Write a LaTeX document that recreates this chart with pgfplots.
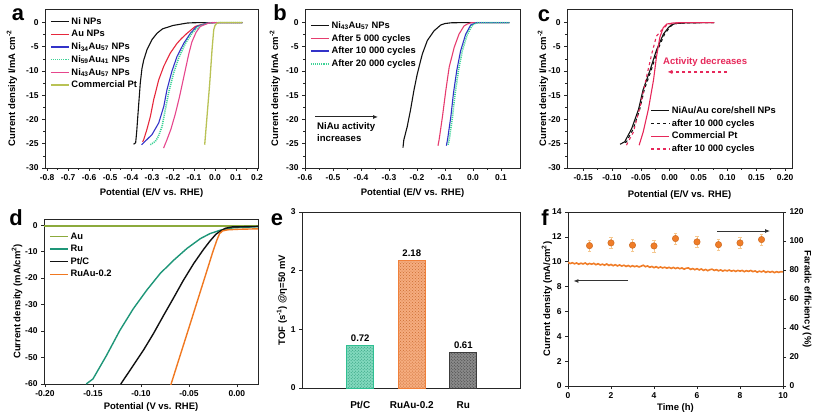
\documentclass[border=0pt]{standalone}
\usepackage{fontspec}
\setmainfont{Liberation Sans}
\usepackage{pgfplots}
\pgfplotsset{compat=1.18}
\usetikzlibrary{patterns,arrows.meta}

\definecolor{cNi}{HTML}{111111}
\definecolor{cAu}{HTML}{E6283C}
\definecolor{cBlue}{HTML}{3232C8}
\definecolor{cGreen}{HTML}{3CD296}
\definecolor{cPink}{HTML}{E6468C}
\definecolor{cPt}{HTML}{B9C255}
\definecolor{cRedB}{HTML}{E63C6E}
\definecolor{cRedC}{HTML}{E6285A}
\definecolor{dAu}{HTML}{8CAA3C}
\definecolor{dRu}{HTML}{1E9678}
\definecolor{dRuAu}{HTML}{F07820}
\definecolor{eGreen}{HTML}{2FBF92}
\definecolor{eOrange}{HTML}{F0803A}
\definecolor{eGray}{HTML}{3C3C3C}
\definecolor{fOrange}{HTML}{F07D28}
\definecolor{fErr}{HTML}{F5C890}

\pgfplotsset{
  panel/.style={
    scale only axis,
    axis line style={draw=black!85, line width=0.8bp},
    every tick/.style={black!85, line width=0.7bp},
    tick align=outside,
    major tick length=3bp,
    minor tick length=1.8bp,
    xtick pos=left, ytick pos=left,
    tick label style={font=\fontsize{8.5}{10}\selectfont\bfseries},
    label style={font=\fontsize{9.5}{11}\selectfont\bfseries},
    /pgf/number format/assume math mode=true,
    legend style={draw=none, fill=none, font=\fontsize{9.4}{11}\selectfont\bfseries, inner sep=0pt, row sep=0.5bp},
    legend cell align=left,
    legend image code/.code={\draw[line width=1.4bp, ##1] (0bp,0bp) -- (18bp,0bp);},
    every axis plot/.append style={line width=1.1bp},
  },
}

\begin{document}
\begin{tikzpicture}[x=1bp,y=1bp]
\useasboundingbox (0,0) rectangle (815,419);

% ---------------- panel a ----------------
\begin{axis}[panel, at={(45bp,251bp)}, anchor=south west, width=213bp, height=159bp,
  xmin=-0.81, xmax=0.205, ymin=-30, ymax=2.8,
  xtick={-0.8,-0.7,-0.6,-0.5,-0.4,-0.3,-0.2,-0.1,0,0.1,0.2},
  ytick={-30,-25,-20,-15,-10,-5,0},
  minor x tick num=1, minor y tick num=1,
  x tick label style={/pgf/number format/.cd, fixed, fixed zerofill, precision=1},
  xlabel={Potential (E/V vs. RHE)},
  ylabel={Current density I/mA cm\textsuperscript{-2}},
  x label style={at={(axis description cs:0.5,-0.157)}, anchor=center},
  y label style={at={(axis description cs:-0.155,0.5)}, anchor=center},
  legend style={at={(0.023,0.96)}, anchor=north west}]
\addplot[cNi] coordinates {(0.13,0) (0,0) (-0.1,-0.03) (-0.133,-0.1) (-0.2,-0.6) (-0.25,-1.3) (-0.276,-2.2) (-0.3,-3.5) (-0.324,-5.6) (-0.34,-7.8) (-0.348,-9.5) (-0.356,-12.5) (-0.362,-16) (-0.368,-19.5) (-0.373,-22.5) (-0.378,-24.8) (-0.388,-25.1)};
\addlegendentry{Ni NPs}
\addplot[cAu] coordinates {(0.13,0) (0,0) (-0.03,-0.1) (-0.06,-0.35) (-0.094,-0.8) (-0.133,-2.2) (-0.16,-3.3) (-0.181,-4.3) (-0.213,-6.3) (-0.244,-9) (-0.268,-11.8) (-0.292,-15.9) (-0.308,-19.4) (-0.324,-22) (-0.34,-24.2) (-0.345,-24.6)};
\addlegendentry{Au NPs}
\addplot[cBlue] coordinates {(0.13,0) (0,0) (-0.04,-0.15) (-0.086,-0.8) (-0.117,-2.2) (-0.149,-4.3) (-0.181,-7) (-0.205,-10) (-0.229,-13.9) (-0.244,-17.3) (-0.268,-20.7) (-0.3,-23.1) (-0.34,-24.8) (-0.35,-25.2)};
\addlegendentry{Ni\textsubscript{34}Au\textsubscript{57} NPs}
\addplot[cGreen, densely dotted, line width=1.6bp] coordinates {(0.13,0) (0,0) (-0.04,-0.15) (-0.078,-0.8) (-0.11,-2.2) (-0.141,-4.3) (-0.173,-7.3) (-0.197,-10.4) (-0.221,-14.5) (-0.237,-18) (-0.252,-21.4) (-0.27,-23.5) (-0.284,-24.5) (-0.308,-25.2)};
\addlegendentry{Ni\textsubscript{59}Au\textsubscript{41} NPs}
\addplot[cPink] coordinates {(0.13,0) (0,0) (-0.03,-0.1) (-0.07,-0.8) (-0.09,-2) (-0.11,-4) (-0.125,-6.5) (-0.14,-9.5) (-0.155,-12.5) (-0.17,-15.5) (-0.19,-19) (-0.21,-22) (-0.23,-24.3) (-0.245,-25.9)};
\addlegendentry{Ni\textsubscript{43}Au\textsubscript{57} NPs}
\addplot[cPt, line width=1.3bp] coordinates {(0.13,0) (0.02,0) (0.01,-0.1) (0,-0.6) (-0.006,-1.5) (-0.014,-5.6) (-0.025,-12.5) (-0.038,-19.4) (-0.049,-25.2)};
\addlegendentry{Commercial Pt}
\end{axis}

% ---------------- panel b ----------------
\begin{axis}[panel, at={(305bp,251bp)}, anchor=south west, width=215bp, height=159bp,
  xmin=-0.6, xmax=0.168, ymin=-30, ymax=2.8,
  xtick={-0.6,-0.5,-0.4,-0.3,-0.2,-0.1,0,0.1},
  ytick={-30,-25,-20,-15,-10,-5,0},
  minor x tick num=1, minor y tick num=1,
  x tick label style={/pgf/number format/.cd, fixed, fixed zerofill, precision=1},
  xlabel={Potential (E/V vs. RHE)},
  ylabel={Current density I/mA cm\textsuperscript{-2}},
  x label style={at={(axis description cs:0.5,-0.157)}, anchor=center},
  y label style={at={(axis description cs:-0.14,0.5)}, anchor=center},
  legend style={at={(0.023,0.935)}, anchor=north west}]
\addplot[cNi] coordinates {(0.13,0) (0,0) (-0.05,-0.02) (-0.079,-0.05) (-0.1,-0.2) (-0.115,-0.5) (-0.139,-1.7) (-0.163,-3.7) (-0.181,-6.5) (-0.199,-10.6) (-0.211,-14) (-0.223,-18) (-0.235,-21.5) (-0.247,-24.2) (-0.25,-25.8)};
\addlegendentry{Ni\textsubscript{43}Au\textsubscript{57} NPs}
\addplot[cRedB] coordinates {(0.13,0) (0,0) (-0.008,-0.05) (-0.02,-0.3) (-0.032,-0.7) (-0.05,-2.4) (-0.067,-5.1) (-0.085,-9.2) (-0.097,-14) (-0.109,-19.4) (-0.121,-24.2) (-0.125,-25.4)};
\addlegendentry{After 5 000 cycles}
\addplot[cBlue] coordinates {(0.13,0) (0.02,0) (0.01,-0.05) (-0.008,-0.5) (-0.026,-2.4) (-0.044,-5.8) (-0.058,-9.9) (-0.07,-14.7) (-0.079,-19.4) (-0.091,-24.2) (-0.095,-25.4)};
\addlegendentry{After 10 000 cycles}
\addplot[cGreen, densely dotted, line width=1.6bp] coordinates {(0.13,0) (0.025,0) (0.012,-0.05) (-0.002,-0.5) (-0.02,-2.4) (-0.038,-5.8) (-0.052,-9.9) (-0.064,-14.7) (-0.073,-19.4) (-0.085,-24.2) (-0.089,-25.2)};
\addlegendentry{After 20 000 cycles}
\draw[-{Latex[length=5bp,width=4bp]}, line width=1bp, black!85] (axis cs:-0.564,-19.47) -- (axis cs:-0.339,-19.47);
\node[anchor=north west, align=left, inner sep=0pt, font=\fontsize{9.6}{12}\selectfont\bfseries] at (axis cs:-0.557,-20.6) {NiAu activity\\increases};
\end{axis}

% ---------------- panel c ----------------
\begin{axis}[panel, at={(567bp,251bp)}, anchor=south west, width=225bp, height=159bp,
  xmin=-0.178, xmax=0.212, ymin=-30, ymax=2.8,
  xtick={-0.15,-0.1,-0.05,0,0.05,0.1,0.15,0.2},
  ytick={-30,-25,-20,-15,-10,-5,0},
  minor x tick num=1, minor y tick num=1,
  x tick label style={/pgf/number format/.cd, fixed, fixed zerofill, precision=2},
  xlabel={Potential (E/V vs. RHE)},
  ylabel={Current density I/mA cm\textsuperscript{-2}},
  x label style={at={(axis description cs:0.5,-0.17)}, anchor=center},
  y label style={at={(axis description cs:-0.107,0.5)}, anchor=center},
  legend style={at={(0.37,0.40)}, anchor=north west}]
\addplot[cNi] coordinates {(0.077,0) (0.03,-0.05) (0.01,-0.2) (0.003,-0.5) (-0.002,-1) (-0.011,-2.4) (-0.023,-5.7) (-0.034,-9.8) (-0.046,-13.8) (-0.054,-17.9) (-0.066,-21.9) (-0.078,-24.6) (-0.086,-25.1)};
\addlegendentry{NiAu/Au core/shell NPs}
\addplot[cNi, dashed] coordinates {(0.077,0) (0.03,-0.05) (0.01,-0.2) (0.004,-0.5) (0,-1) (-0.009,-2.4) (-0.021,-5.7) (-0.032,-9.8) (-0.044,-13.8) (-0.052,-17.9) (-0.063,-21.9) (-0.075,-24.6) (-0.082,-25)};
\addlegendentry{after 10 000 cycles}
\addplot[cRedC] coordinates {(0.077,0) (0.02,-0.02) (0.005,-0.1) (-0.005,-0.3) (-0.011,-1) (-0.017,-3) (-0.023,-7.1) (-0.028,-11.8) (-0.037,-17.9) (-0.046,-22.6) (-0.053,-25.3)};
\addlegendentry{Commercial Pt}
\addplot[cRedC, dashed] coordinates {(0.077,0) (0.02,-0.02) (0.005,-0.15) (-0.005,-0.5) (-0.012,-1.3) (-0.023,-2.8) (-0.031,-6.4) (-0.04,-11.1) (-0.051,-17.2) (-0.063,-22.6) (-0.075,-25.3)};
\addlegendentry{after 10 000 cycles}
\node[text=cRedC, font=\fontsize{9.6}{11}\selectfont\bfseries] at (axis cs:0.0614,-8.1) {Activity decreases};
\draw[cRedC, dashed, line width=1.3bp, -{Latex[length=5bp,width=4.5bp]}] (axis cs:0.0996,-10.18) -- (axis cs:-0.004,-10.18);
\end{axis}

% ---------------- panel d ----------------
\begin{axis}[panel, at={(44bp,35bp)}, anchor=south west, width=214bp, height=165bp,
  xmin=-0.201, xmax=0.022, ymin=-60, ymax=2.3,
  xtick={-0.2,-0.15,-0.1,-0.05,0},
  ytick={-60,-50,-40,-30,-20,-10,0},
  x tick label style={/pgf/number format/.cd, fixed, fixed zerofill, precision=2},
  xlabel={Potential (V vs. RHE)},
  ylabel={Current density (mA/cm\textsuperscript{2})},
  x label style={at={(axis description cs:0.5,-0.139)}, anchor=center},
  y label style={at={(axis description cs:-0.126,0.5)}, anchor=center},
  legend style={at={(0.023,0.93)}, anchor=north west},
  every axis plot/.append style={line width=1.4bp}]
\addplot[dAu] coordinates {(-0.201,-0.3) (-0.1,-0.3) (0,-0.3) (0.022,-0.3)};
\addlegendentry{Au}
\addplot[dRu] coordinates {(-0.157,-60) (-0.15,-58.1) (-0.136,-49.3) (-0.122,-39.8) (-0.108,-31.6) (-0.094,-24.6) (-0.08,-18.3) (-0.066,-13.3) (-0.052,-8.8) (-0.038,-5.1) (-0.028,-3.2) (-0.017,-1.9) (-0.01,-1.4) (-0.0035,-1) (0.022,-0.6)};
\addlegendentry{Ru}
\addplot[cNi] coordinates {(-0.121,-60) (-0.108,-53) (-0.097,-47) (-0.087,-41) (-0.077,-34.5) (-0.066,-27.5) (-0.056,-21) (-0.045,-14.5) (-0.035,-9.3) (-0.028,-6) (-0.022,-3.5) (-0.017,-2.2) (-0.012,-1.2) (-0.005,-0.7) (0.022,-0.5)};
\addlegendentry{Pt/C}
\addplot[dRuAu] coordinates {(-0.069,-60.5) (-0.06,-50.2) (-0.05,-38.8) (-0.04,-27.3) (-0.03,-15.8) (-0.025,-10) (-0.021,-5.8) (-0.018,-3.2) (-0.015,-2.2) (-0.01,-1.8) (0,-1.6) (0.022,-1.4)};
\addlegendentry{RuAu-0.2}
\end{axis}

% ---------------- panel e ----------------
\begin{axis}[panel, at={(302bp,31bp)}, anchor=south west, width=218bp, height=176bp,
  xmin=-0.13, xmax=4.1, ymin=0, ymax=3,
  xtick={1,2,3}, xticklabels={Pt/C,RuAu-0.2,Ru},
  ytick={0,1,2,3},
  x tick style={draw=none},
  x tick label style={font=\fontsize{10}{12}\selectfont\bfseries, yshift=-7bp},
  ylabel={TOF (s\textsuperscript{-1}) @η=50 mV},
  y label style={at={(axis description cs:-0.092,0.5)}, anchor=center},
  nodes near coords,
  nodes near coords style={font=\fontsize{9.6}{11}\selectfont\bfseries, text=black, /pgf/number format/.cd, fixed, precision=2, fixed zerofill}]
\addplot[ybar, bar width=27bp, bar shift=0pt, line width=0.8bp, draw=eGreen, fill=eGreen!60, postaction={pattern=crosshatch dots, pattern color=eGreen!80!black}] coordinates {(1,0.72)};
\addplot[ybar, bar width=27bp, bar shift=0pt, line width=0.8bp, draw=eOrange, fill=eOrange!65, postaction={pattern=crosshatch dots, pattern color=eOrange!85!black}] coordinates {(2,2.18)};
\addplot[ybar, bar width=27bp, bar shift=0pt, line width=0.8bp, draw=eGray, fill=eGray!60, postaction={pattern=crosshatch dots, pattern color=eGray}] coordinates {(3,0.61)};
\end{axis}

% ---------------- panel f ----------------
\begin{axis}[panel, at={(568bp,33bp)}, anchor=south west, width=215bp, height=174bp,
  xmin=0, xmax=10, ymin=0, ymax=14,
  xtick={0,2,4,6,8,10}, ytick={0,2,4,6,8,10,12,14},
  xlabel={Time (h)},
  ylabel={Current density (mA/cm\textsuperscript{2})},
  x label style={at={(axis description cs:0.5,-0.126)}, anchor=center},
  y label style={at={(axis description cs:-0.098,0.5)}, anchor=center}]
\addplot[fOrange, line width=1.6bp] coordinates {
(0,9.95) (0.1,9.85) (0.2,9.92) (0.3,9.83) (0.4,9.9) (0.5,9.8) (0.6,9.88) (0.7,9.82) (0.8,9.9) (0.9,9.78)
(1.0,9.86) (1.1,9.8) (1.2,9.87) (1.3,9.76) (1.4,9.84) (1.5,9.74) (1.6,9.8) (1.7,9.72) (1.8,9.82) (1.9,9.7)
(2.0,9.78) (2.1,9.68) (2.2,9.76) (2.3,9.66) (2.4,9.74) (2.5,9.65) (2.6,9.72) (2.7,9.62) (2.8,9.7) (2.9,9.6)
(3.0,9.68) (3.1,9.6) (3.2,9.66) (3.3,9.58) (3.4,9.64) (3.5,9.72) (3.6,9.6) (3.7,9.66) (3.8,9.55) (3.9,9.62)
(4.0,9.52) (4.1,9.6) (4.2,9.5) (4.3,9.58) (4.4,9.5) (4.5,9.56) (4.6,9.48) (4.7,9.55) (4.8,9.46) (4.9,9.54)
(5.0,9.45) (5.1,9.52) (5.2,9.44) (5.3,9.5) (5.4,9.4) (5.5,9.48) (5.6,9.5) (5.7,9.38) (5.8,9.45) (5.9,9.36)
(6.0,9.44) (6.1,9.34) (6.2,9.42) (6.3,9.3) (6.4,9.38) (6.5,9.28) (6.6,9.36) (6.7,9.4) (6.8,9.3) (6.9,9.36)
(7.0,9.27) (7.1,9.34) (7.2,9.25) (7.3,9.32) (7.4,9.26) (7.5,9.33) (7.6,9.24) (7.7,9.3) (7.8,9.22) (7.9,9.3)
(8.0,9.24) (8.1,9.3) (8.2,9.2) (8.3,9.28) (8.4,9.22) (8.5,9.3) (8.6,9.2) (8.7,9.26) (8.8,9.16) (8.9,9.24)
(9.0,9.18) (9.1,9.26) (9.2,9.14) (9.3,9.22) (9.4,9.15) (9.5,9.22) (9.6,9.12) (9.7,9.2) (9.8,9.14) (9.9,9.2) (10,9.18)};
\draw[-{Latex[length=5bp,width=4bp]}, line width=1bp, black!80] (axis cs:2.8,8.45) -- (axis cs:0.25,8.45);
\draw[-{Latex[length=5bp,width=4bp]}, line width=1bp, black!80] (axis cs:6.93,12.47) -- (axis cs:9.4,12.47);
\end{axis}
\begin{axis}[panel, at={(568bp,33bp)}, anchor=south west, width=215bp, height=174bp,
  xmin=0, xmax=10, ymin=0, ymax=120,
  axis x line=none, axis y line*=right, ytick pos=right,
  ytick={0,20,40,60,80,100,120},
  ylabel={Faradic efficiency (\%)},
  y label style={at={(axis description cs:1.112,0.5)}, anchor=center, rotate=-180}]
\addplot[only marks, mark=*, mark size=3.2bp, mark options={fill=fOrange, draw=fOrange!85!black, line width=0.5bp},
  error bars/.cd, y dir=both, y explicit,
  error bar style={color=fErr, line width=0.8bp},
  error mark options={rotate=90, mark size=1.6bp, fErr}]
  coordinates {(1,96.8) +- (0,4) (2,98.7) +- (0,4) (3,97.1) +- (0,4) (4,96.6) +- (0,4) (5,101.7) +- (0,4) (6,99.4) +- (0,4) (7,97.5) +- (0,4) (8,98.7) +- (0,4) (9,101) +- (0,4)};
\end{axis}

% panel letters
\node[font=\fontsize{22}{22}\selectfont\bfseries] at (18,404) {a};
\node[font=\fontsize{22}{22}\selectfont\bfseries] at (280,406.5) {b};
\node[font=\fontsize{22}{22}\selectfont\bfseries] at (544,403) {c};
\node[font=\fontsize{22}{22}\selectfont\bfseries] at (16,201.5) {d};
\node[font=\fontsize{22}{22}\selectfont\bfseries] at (277,199) {e};
\node[font=\fontsize{22}{22}\selectfont\bfseries] at (545,201.5) {f};
\end{tikzpicture}
\end{document}
